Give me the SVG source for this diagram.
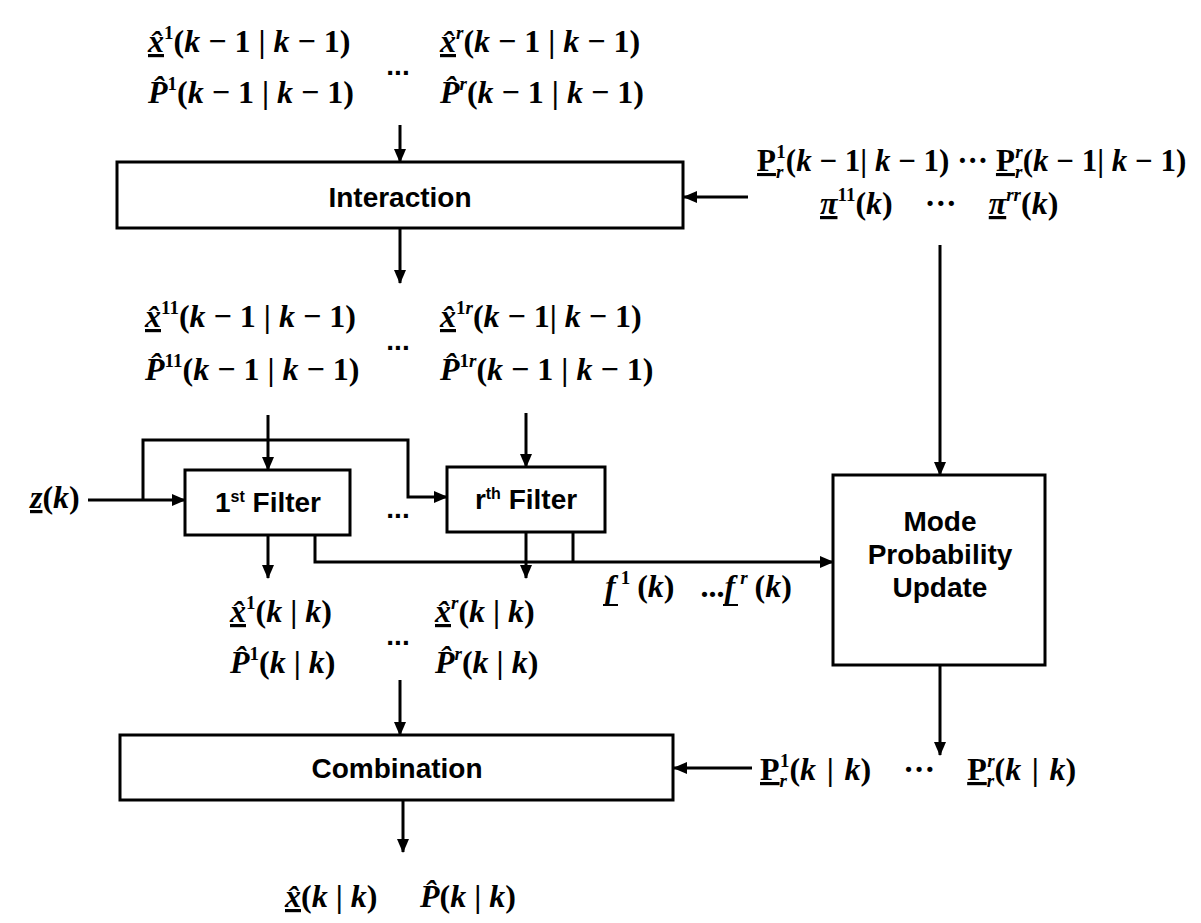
<svg xmlns="http://www.w3.org/2000/svg" width="1201" height="923" viewBox="0 0 1201 923">
<style>
.m{font-family:"Liberation Serif","DejaVu Serif",serif;font-weight:bold;font-size:32px;fill:#000}
.r31{font-size:31px}
.i{font-style:italic}
.u{text-decoration:underline}
.s{font-size:19px}
.lbl{font-family:"Liberation Sans",Arial,sans-serif;font-weight:bold;font-size:28px;text-anchor:middle;fill:#000}
.box{fill:#fff;stroke:#000;stroke-width:3}
.c{fill:none;stroke:#000;stroke-width:3}
.ul{stroke:#000;stroke-width:2}
.dots{font-family:"Liberation Sans",Arial,sans-serif;font-weight:bold;font-size:28px;text-anchor:middle}
</style>
<defs>
<marker id="ah" markerUnits="userSpaceOnUse" markerWidth="14" markerHeight="12" refX="13" refY="6" orient="auto">
<path d="M0,0 L14,6 L0,12 z" fill="#000"/>
</marker>
</defs>
<rect width="1201" height="923" fill="#fff"/>

<g id="connectors">
<line class="c" x1="400" y1="125" x2="400" y2="162" marker-end="url(#ah)"/>
<line class="c" x1="748" y1="197" x2="684" y2="197" marker-end="url(#ah)"/>
<line class="c" x1="400" y1="228" x2="400" y2="283" marker-end="url(#ah)"/>
<line class="c" x1="940" y1="245" x2="940" y2="475" marker-end="url(#ah)"/>
<line class="c" x1="268" y1="415" x2="268" y2="470" marker-end="url(#ah)"/>
<line class="c" x1="526" y1="413" x2="526" y2="467" marker-end="url(#ah)"/>
<line class="c" x1="88" y1="500" x2="185" y2="500" marker-end="url(#ah)"/>
<path class="c" d="M143,500 V440 H408 V497 H447" marker-end="url(#ah)"/>
<line class="c" x1="268" y1="535" x2="268" y2="578" marker-end="url(#ah)"/>
<path class="c" d="M315,535 V562 H833" marker-end="url(#ah)"/>
<line class="c" x1="573" y1="532" x2="573" y2="562"/>
<line class="c" x1="526" y1="532" x2="526" y2="578" marker-end="url(#ah)"/>
<line class="c" x1="940" y1="665" x2="940" y2="755" marker-end="url(#ah)"/>
<line class="c" x1="400" y1="680" x2="400" y2="735" marker-end="url(#ah)"/>
<line class="c" x1="752" y1="768" x2="674" y2="768" marker-end="url(#ah)"/>
<line class="c" x1="403" y1="800" x2="403" y2="852" marker-end="url(#ah)"/>
</g>

<g id="interaction">
<rect class="box" x="117" y="162" width="566" height="66"/>
<text class="lbl" x="400" y="207">Interaction</text>
</g>

<g id="filter1">
<rect class="box" x="185" y="470" width="165" height="65"/>
<text class="lbl" x="268" y="512">1<tspan font-size="16" dy="-10">st</tspan><tspan dy="10"> Filter</tspan></text>
</g>

<g id="filterr">
<rect class="box" x="447" y="467" width="158" height="65"/>
<text class="lbl" x="526" y="509">r<tspan font-size="16" dy="-10">th</tspan><tspan dy="10"> Filter</tspan></text>
</g>

<g id="mode">
<rect class="box" x="833" y="475" width="212" height="190"/>
<text class="lbl" x="940" y="531">Mode</text>
<text class="lbl" x="940" y="564">Probability</text>
<text class="lbl" x="940" y="597">Update</text>
</g>

<g id="combination">
<rect class="box" x="120" y="735" width="553" height="65"/>
<text class="lbl" x="397" y="778">Combination</text>
</g>

<g id="labels">
<text class="m" x="148" y="52"><tspan class="i u">x̂</tspan><tspan class="s" dy="-13">1</tspan><tspan dy="13">(</tspan><tspan class="i">k</tspan> − 1 | <tspan class="i">k</tspan> − 1)</text>
<text class="m" x="148" y="103"><tspan class="i">P̂</tspan><tspan class="s" dy="-13">1</tspan><tspan dy="13">(</tspan><tspan class="i">k</tspan> − 1 | <tspan class="i">k</tspan> − 1)</text>
<text class="m" x="440" y="52"><tspan class="i u">x̂</tspan><tspan class="s i" dy="-13">r</tspan><tspan dy="13">(</tspan><tspan class="i">k</tspan> − 1 | <tspan class="i">k</tspan> − 1)</text>
<text class="m" x="440" y="103"><tspan class="i">P̂</tspan><tspan class="s i" dy="-13">r</tspan><tspan dy="13">(</tspan><tspan class="i">k</tspan> − 1 | <tspan class="i">k</tspan> − 1)</text>
<text class="dots" x="398" y="75">...</text>

<text class="m r31" x="757" y="171"><tspan class="u">P</tspan><tspan class="s i" dy="7">r</tspan><tspan class="s" dx="-7" dy="-20">1</tspan><tspan dy="13">(</tspan><tspan class="i">k</tspan> − 1| <tspan class="i">k</tspan> − 1) ··· <tspan class="u">P</tspan><tspan class="s i" dy="7">r</tspan><tspan class="s i" dx="-7" dy="-20">r</tspan><tspan dy="13">(</tspan><tspan class="i">k</tspan> − 1| <tspan class="i">k</tspan> − 1)</text>
<text class="m" x="820" y="214"><tspan class="i u">π</tspan><tspan class="s" dy="-13">11</tspan><tspan dy="13">(</tspan><tspan class="i">k</tspan>)&#8194;&#8194;···&#8194;&#8194;<tspan class="i u">π</tspan><tspan class="s i" dy="-13">rr</tspan><tspan dy="13">(</tspan><tspan class="i">k</tspan>)</text>

<text class="m" x="145" y="327"><tspan class="i u">x̂</tspan><tspan class="s" dy="-13">11</tspan><tspan dy="13">(</tspan><tspan class="i">k</tspan> − 1 | <tspan class="i">k</tspan> − 1)</text>
<text class="m" x="145" y="380"><tspan class="i">P̂</tspan><tspan class="s" dy="-13">11</tspan><tspan dy="13">(</tspan><tspan class="i">k</tspan> − 1 | <tspan class="i">k</tspan> − 1)</text>
<text class="m" x="440" y="327"><tspan class="i u">x̂</tspan><tspan class="s" dy="-13">1<tspan class="i">r</tspan></tspan><tspan dy="13">(</tspan><tspan class="i">k</tspan> − 1| <tspan class="i">k</tspan> − 1)</text>
<text class="m" x="440" y="380"><tspan class="i">P̂</tspan><tspan class="s" dy="-13">1<tspan class="i">r</tspan></tspan><tspan dy="13">(</tspan><tspan class="i">k</tspan> − 1 | <tspan class="i">k</tspan> − 1)</text>
<text class="dots" x="398" y="350">...</text>

<text class="m" x="30" y="508"><tspan class="i u">z</tspan>(<tspan class="i">k</tspan>)</text>
<text class="dots" x="398" y="518">...</text>

<text class="m" x="605" y="597"><tspan class="i">f</tspan><tspan class="s" dx="5" dy="-13">1</tspan><tspan dx="7" dy="13">(</tspan><tspan class="i">k</tspan>)<tspan dx="26">...</tspan><tspan class="i">f</tspan><tspan class="s i" dx="5" dy="-13">r</tspan><tspan dx="7" dy="13">(</tspan><tspan class="i">k</tspan>)</text>
<line class="ul" x1="603" y1="605" x2="618" y2="605"/>
<line class="ul" x1="723" y1="605" x2="738" y2="605"/>

<text class="m" x="230" y="622"><tspan class="i u">x̂</tspan><tspan class="s" dy="-13">1</tspan><tspan dy="13">(</tspan><tspan class="i">k</tspan> | <tspan class="i">k</tspan>)</text>
<text class="m" x="230" y="673"><tspan class="i">P̂</tspan><tspan class="s" dy="-13">1</tspan><tspan dy="13">(</tspan><tspan class="i">k</tspan> | <tspan class="i">k</tspan>)</text>
<text class="m" x="435" y="622"><tspan class="i u">x̂</tspan><tspan class="s i" dy="-13">r</tspan><tspan dy="13">(</tspan><tspan class="i">k</tspan> | <tspan class="i">k</tspan>)</text>
<text class="m" x="435" y="673"><tspan class="i">P̂</tspan><tspan class="s i" dy="-13">r</tspan><tspan dy="13">(</tspan><tspan class="i">k</tspan> | <tspan class="i">k</tspan>)</text>
<text class="dots" x="398" y="645">...</text>

<text class="m" x="760" y="780"><tspan class="u">P</tspan><tspan class="s i" dy="7">r</tspan><tspan class="s" dx="-7" dy="-20">1</tspan><tspan dy="13">(</tspan><tspan class="i">k</tspan>&#8196;|&#8196;<tspan class="i">k</tspan>)&#8194;&#8194;···&#8194;&#8194;<tspan class="u">P</tspan><tspan class="s i" dy="7">r</tspan><tspan class="s i" dx="-7" dy="-20">r</tspan><tspan dy="13">(</tspan><tspan class="i">k</tspan>&#8196;|&#8196;<tspan class="i">k</tspan>)</text>

<text class="m" x="285" y="907"><tspan class="i u">x̂</tspan>(<tspan class="i">k</tspan> | <tspan class="i">k</tspan>)</text>
<text class="m" x="420" y="907"><tspan class="i">P̂</tspan>(<tspan class="i">k</tspan> | <tspan class="i">k</tspan>)</text>
</g>
</svg>
